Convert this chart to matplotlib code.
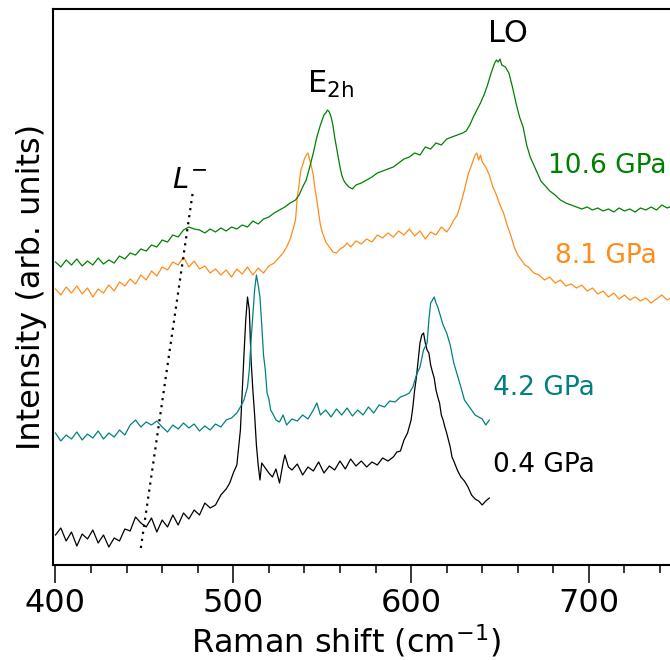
import numpy as np
import matplotlib
matplotlib.use("Agg")
import matplotlib.pyplot as plt

# Raman spectra (stacked, arbitrary intensity units) at four pressures
shift_04 = [400, 403, 406, 409, 412, 415, 418, 421, 424, 427, 430, 433, 436, 439, 442, 445,
            448, 451, 454, 457, 460, 463, 466, 469, 472, 475, 478, 481, 484, 487, 490, 493,
            496, 498, 500, 502, 504, 506, 507, 508, 509, 510, 511, 512, 513, 514, 515, 516,
            518, 520, 522, 524, 526, 528, 529, 531, 533, 536, 539, 542, 545, 548, 551, 554,
            557, 560, 563, 566, 569, 572, 575, 578, 581, 584, 587, 590, 592, 594, 596, 598,
            600, 601, 602, 603, 604, 605, 606, 607, 608, 609, 610, 611, 612, 613, 614, 615,
            616, 617, 618, 619, 620, 621, 622, 623, 624, 626, 628, 630, 632, 634, 636, 638,
            640, 642, 644]
int_04 = [30, 37, 24, 33, 19, 31, 26, 35, 22, 30, 18, 27, 24, 36, 34, 48,
          42, 38, 47, 33, 45, 38, 50, 40, 52, 46, 55, 50, 62, 57, 60, 70,
          76, 82, 92, 100, 135, 210, 245, 268, 255, 205, 175, 150, 120, 100, 85, 102,
          97, 92, 88, 96, 82, 102, 110, 98, 95, 101, 90, 98, 94, 103, 92, 99,
          95, 104, 96, 106, 99, 104, 98, 103, 100, 107, 104, 108, 113, 114, 125, 132,
          145, 158, 175, 188, 205, 222, 230, 232, 222, 215, 212, 200, 193, 187, 175, 168,
          162, 150, 145, 138, 132, 125, 118, 108, 104, 95, 88, 84, 78, 70, 66, 64,
          60, 64, 67]

shift_42 = [400, 403, 406, 409, 412, 415, 418, 421, 424, 427, 430, 433, 436, 439, 442, 445,
            448, 451, 454, 457, 460, 463, 466, 469, 472, 475, 478, 481, 484, 487, 490, 493,
            496, 499, 502, 504, 506, 508, 509, 510, 511, 512, 513, 514, 515, 516, 517, 518,
            519, 520, 521, 522, 524, 526, 528, 530, 533, 536, 539, 542, 545, 547, 549, 552,
            555, 558, 561, 564, 567, 570, 573, 576, 579, 582, 585, 588, 591, 594, 597, 599,
            601, 603, 605, 607, 609, 610, 611, 612, 613, 614, 615, 616, 618, 620, 622, 624,
            626, 628, 630, 632, 634, 636, 638, 640, 642, 644]
int_42 = [132, 124, 130, 126, 133, 125, 131, 127, 134, 126, 132, 128, 135, 130, 140, 145,
          138, 143, 140, 144, 138, 133, 140, 136, 142, 137, 141, 134, 139, 135, 141, 138,
          145, 147, 152, 158, 165, 178, 195, 225, 250, 275, 290, 280, 268, 240, 210, 195,
          172, 166, 155, 152, 145, 143, 150, 140, 146, 144, 150, 146, 155, 162, 150, 155,
          148, 156, 150, 157, 149, 155, 150, 158, 152, 160, 158, 164, 163, 168, 170, 172,
          178, 190, 198, 215, 222, 245, 262, 265, 268, 262, 258, 252, 240, 232, 220, 202,
          190, 178, 165, 160, 155, 150, 148, 146, 140, 145]

shift_81 = [400, 403, 406, 409, 412, 415, 418, 421, 424, 427, 430, 433, 436, 439, 442, 445,
            448, 451, 454, 457, 460, 463, 466, 469, 472, 475, 478, 481, 484, 487, 490, 493,
            496, 499, 502, 505, 508, 511, 514, 517, 520, 523, 526, 528, 530, 532, 534, 535,
            536, 537, 538, 539, 540, 541, 542, 543, 544, 545, 546, 547, 548, 549, 550, 552,
            554, 556, 558, 560, 562, 564, 566, 569, 572, 575, 578, 581, 584, 587, 590, 593,
            596, 599, 602, 605, 608, 611, 614, 617, 620, 622, 624, 626, 628, 630, 632, 634,
            636, 637, 638, 639, 640, 642, 644, 646, 648, 650, 652, 654, 656, 658, 660, 662,
            664, 666, 669, 672, 675, 678, 681, 684, 687, 690, 693, 696, 699, 702, 705, 708,
            711, 714, 717, 720, 723, 726, 729, 732, 735, 738, 741, 744, 747, 750]
int_81 = [276, 270, 278, 272, 279, 271, 277, 268, 276, 272, 280, 274, 283, 279, 286, 281,
          290, 285, 294, 289, 298, 295, 303, 300, 308, 298, 304, 296, 299, 292, 296, 290,
          295, 288, 296, 291, 298, 290, 297, 292, 299, 302, 308, 312, 318, 326, 338, 345,
          368, 380, 395, 400, 406, 410, 412, 405, 398, 390, 375, 365, 352, 340, 333, 323,
          318, 313, 312, 316, 318, 322, 318, 324, 321, 326, 323, 330, 327, 332, 328, 334,
          330, 336, 329, 334, 326, 333, 330, 338, 333, 338, 345, 350, 362, 375, 390, 400,
          410, 412, 405, 410, 403, 398, 390, 378, 370, 360, 352, 340, 330, 318, 310, 305,
          300, 298, 292, 290, 285, 288, 282, 285, 279, 281, 277, 280, 274, 277, 271, 274,
          268, 272, 266, 270, 265, 268, 264, 267, 262, 266, 270, 265, 268, 271]

shift_106 = [400, 403, 406, 409, 412, 415, 418, 421, 424, 427, 430, 433, 436, 439, 442, 445,
             448, 451, 454, 457, 460, 463, 466, 469, 472, 475, 478, 481, 484, 487, 490, 493,
             496, 499, 502, 505, 508, 511, 514, 517, 520, 523, 526, 529, 532, 535, 537, 539,
             541, 543, 545, 547, 549, 551, 552, 553, 554, 555, 556, 557, 558, 559, 560, 561,
             562, 563, 565, 567, 569, 572, 575, 578, 581, 584, 587, 590, 593, 596, 599, 602,
             605, 608, 611, 614, 617, 620, 623, 626, 629, 631, 633, 635, 637, 639, 641, 643,
             645, 647, 648, 649, 650, 651, 653, 655, 657, 659, 661, 663, 665, 667, 669, 671,
             673, 675, 678, 681, 684, 687, 690, 693, 696, 699, 702, 705, 708, 711, 714, 717,
             720, 723, 726, 729, 732, 735, 738, 741, 744, 747, 750]
int_106 = [303, 298, 305, 300, 306, 299, 304, 300, 307, 301, 305, 302, 309, 306, 312, 310,
           316, 314, 320, 318, 325, 323, 330, 328, 335, 338, 336, 335, 332, 336, 333, 337,
           334, 338, 336, 340, 338, 344, 341, 346, 348, 352, 355, 358, 362, 365, 370, 378,
           385, 398, 412, 428, 440, 450, 452, 455, 453, 448, 440, 428, 418, 408, 398, 390,
           385, 382, 378, 376, 380, 382, 385, 388, 392, 394, 396, 398, 402, 406, 408, 412,
           410, 418, 416, 422, 420, 426, 428, 430, 432, 434, 440, 448, 455, 462, 470, 480,
           492, 502, 505, 503, 506, 500, 498, 492, 478, 462, 448, 438, 420, 408, 400, 392,
           384, 380, 374, 370, 365, 362, 360, 358, 356, 358, 355, 357, 354, 356, 353, 357,
           354, 356, 353, 357, 355, 358, 355, 360, 357, 359, 357]

# L- mode guide line
guide_shift = [448, 477.4]
guide_int = [17, 375]

fig = plt.figure(figsize=(6.7, 6.6), dpi=100)
ax = fig.add_axes([53 / 670, 95 / 660, 624.8 / 670, 556 / 660])

lw = 0.9
ax.plot(shift_04, int_04, color='black', lw=lw)
ax.plot(shift_42, int_42, color='teal', lw=lw)
ax.plot(shift_81, int_81, color='#ff8c1a', lw=lw)
ax.plot(shift_106, int_106, color='green', lw=lw)
ax.plot(guide_shift, guide_int, color='black', ls=(0, (1, 2.2)), lw=1.6)

fs = 19
ax.text(646, 100, '0.4 GPa', color='black', fontsize=fs, va='center')
ax.text(646, 177, '4.2 GPa', color='teal', fontsize=fs, va='center')
ax.text(681, 309, '8.1 GPa', color='#ff8c1a', fontsize=fs, va='center')
ax.text(677, 399, '10.6 GPa', color='green', fontsize=fs, va='center')
ax.text(475.6, 385, '$L^{-}$', fontsize=21, ha='center', va='center')
ax.text(554.4, 481, r'$\mathrm{E_{2h}}$', fontsize=22, ha='center', va='center')
ax.text(654.5, 532, 'LO', fontsize=22, ha='center', va='center')

ax.set_xlim(398.6, 750)
ax.set_ylim(0, 556)
ax.set_yticks([])
ax.set_xticks([400, 500, 600, 700])
ax.set_xticks(np.arange(400, 751, 20), minor=True)
ax.tick_params(axis='x', which='major', length=13, width=1.1, labelsize=23, direction='out')
ax.tick_params(axis='x', which='minor', length=6, width=1.1, direction='out')
for sp in ax.spines.values():
    sp.set_linewidth(1.5)

ax.set_xlabel('Raman shift (cm$^{-1}$)', fontsize=23)
ax.xaxis.set_label_coords(0.469, -0.104)
ax.set_ylabel('Intensity (arb. units)', fontsize=23)

fig.savefig('out.png', dpi=100)
